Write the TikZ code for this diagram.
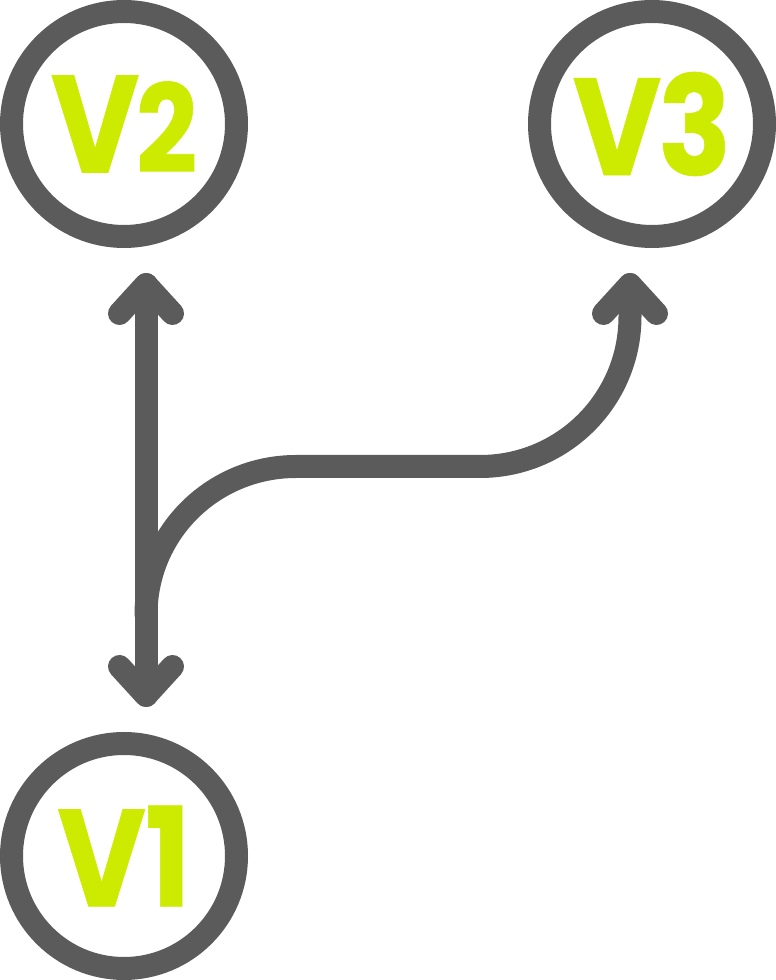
\documentclass[tikz,border=0pt]{standalone}
\usepackage{fontspec}
\newfontfamily\vfont{Poppins}[FakeBold=0.5]
\definecolor{ink}{RGB}{91,91,91}
\definecolor{vlime}{RGB}{205,235,0}
\begin{document}
\begin{tikzpicture}[x=1pt,y=1pt,
  ring/.style={circle, draw=ink, line width=23pt, minimum size=225pt, inner sep=0pt,
    font=\vfont\bfseries\fontsize{138}{138}\selectfont, text=vlime},
  link/.style={draw=ink, line width=23pt, line cap=round, line join=round}]
\useasboundingbox (0,0) rectangle (776,980);
\node[ring] (v2) at (124,856) {\scalebox{0.88}[1]{V\kern-4pt\fontsize{122}{122}\selectfont 2}};
\node[ring] (v3) at (652,856) {\scalebox{0.88}[1]{V\kern-4pt 3}};
\node[ring] (v1) at (124,124) {\scalebox{0.88}[1]{V\kern-1pt 1}};
\coordinate (t2) at (146,695.5);
\coordinate (t1) at (146,284.5);
\coordinate (t3) at (630,695.5);
\coordinate (br) at (146,365);
\coordinate (h1) at (296,513.5);
\coordinate (h2) at (480,513.5);
\coordinate (c3) at (630,663.5);
% main double arrow V2 <-> V1
\draw[link] (t2) -- (t1);
\draw[link] ([shift={(-26.5,-29)}]t2) -- (t2) -- ([shift={(26.5,-29)}]t2);
\draw[link] ([shift={(-26.5,29)}]t1) -- (t1) -- ([shift={(26.5,29)}]t1);
% branch to V3
\draw[link] (br) to[out=90,in=180] (h1) -- (h2) to[out=0,in=270] (c3) -- (t3);
\draw[link] ([shift={(-26.5,-29)}]t3) -- (t3) -- ([shift={(26.5,-29)}]t3);
\end{tikzpicture}
\end{document}
